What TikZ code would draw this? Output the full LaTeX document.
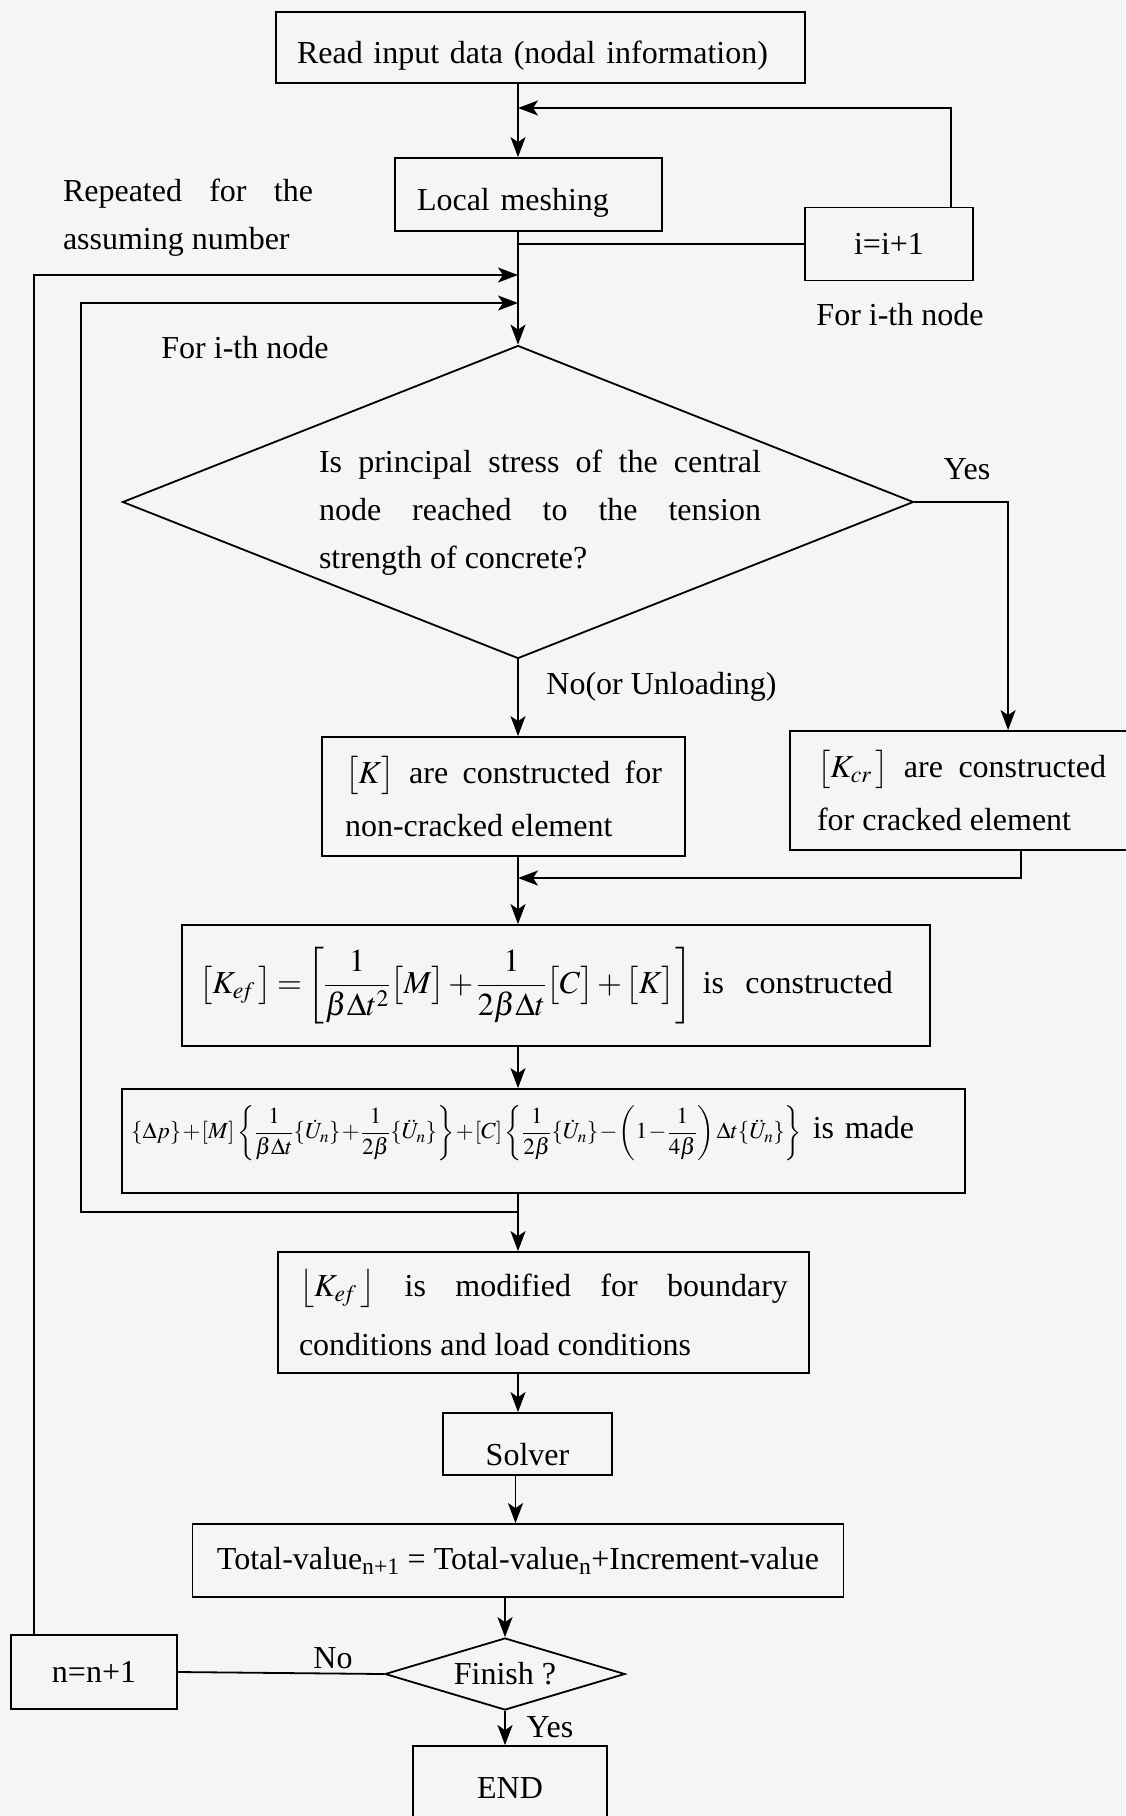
\documentclass[tikz,border=0pt]{standalone}
\usepackage{mathptmx}
\usepackage{fontspec}
\setmainfont{Liberation Serif}
\usetikzlibrary{arrows.meta,shapes.geometric,calc}
\newcommand{\spreadto}[2]{\makebox[#1][s]{#2}}
\newcommand{\shiftdown}[2]{\raisebox{-#1}[\height][\depth]{#2}}
\tikzset{box/.style={draw=black,line width=1.8pt,inner ysep=0pt,font=\fontsize{32}{53}\selectfont},
  decision/.style={draw=black,line width=1.8pt,shape=diamond,inner sep=0pt,font=\fontsize{32}{38}\selectfont},
  note/.style={inner sep=0pt,font=\fontsize{32}{38}\selectfont},
  arrow/.style={-{Stealth[length=20pt,width=15pt,inset=5pt]},line width=1.8pt},
  link/.style={line width=1.8pt}}

\begin{document}
\begin{tikzpicture}[x=1pt,y=-1pt]
  \path[fill=black!4,use as bounding box] (0,0) rectangle (1125,1816);
  \node[box,minimum height=71pt,inner xsep=21pt,text width=487pt,align=left] (read) at (540.5,47.5) {\shiftdown{8pt}{Read input data (nodal information)}};
  \node[box,minimum height=73pt,inner xsep=22pt,text width=223pt,align=left] (mesh) at (528.5,194.5) {\shiftdown{8pt}{Local meshing}};
  \node[box,minimum width=168pt,minimum height=73pt] (inc) at (889,244) {i=i+1};
  \node[note] (forright) at (900,315) {For i-th node};
  \node[note,font=\fontsize{32}{48.5}\selectfont,align=left] (repeat) at (188,217.5) {\spreadto{250pt}{Repeated for the}\\assuming number};
  \node[note] (forleft) at (245,348) {For i-th node};
  \node[decision,minimum width=791pt,minimum height=313pt] (crack) at (518,502) {};
  \node[note,font=\fontsize{32}{48}\selectfont,align=left] (cracktext) at (540,513) {\spreadto{442pt}{Is principal stress of the central}\\\spreadto{442pt}{node reached to the tension}\\strength of concrete?};
  \node[note] (yes1) at (967,469) {Yes};
  \node[note] (no1) at (661.5,687) {No(or Unloading)};
  \node[box,minimum height=119pt,inner xsep=23pt,align=left] (kbox) at (503.5,796.5) {\spreadto{317pt}{$\bigl[K\bigr]$ are constructed for}\\non-cracked element};
  \node[box,minimum height=119pt,inner xsep=27pt,align=left] (kcr) at (961.5,790.5) {\spreadto{289pt}{$\bigl[K_{cr}\,\bigr]$ are constructed}\\for cracked element};
  \node[box,minimum height=121pt,inner xsep=17pt,text width=714pt,align=left] (kef) at (556,985.5) {$\medmuskip=2mu\thickmuskip=3mu\displaystyle\bigl[K_{e\!f}\,\bigr]=\left[\frac{1}{\beta\Delta t^{2}}\bigl[M\bigr]+\frac{1}{2\beta\Delta t}\bigl[C\bigr]+\bigl[K\bigr]\right]$ is~~constructed};
  \node[box,minimum height=104pt,inner xsep=9pt,text width=825pt,align=left] (dp) at (543.5,1141) {\shiftdown{-8pt}{{\fontsize{23}{28}\selectfont$\medmuskip=1mu\thickmuskip=2mu\displaystyle\{\Delta p\}+[M]\left\{\frac{1}{\beta\Delta t}\{\dot U_{n}\}+\frac{1}{2\beta}\{\ddot U_{n}\}\right\}+[C]\left\{\frac{1}{2\beta}\{\dot U_{n}\}-\left(1-\frac{1}{4\beta}\right)\Delta t\{\ddot U_{n}\}\right\}$}~is made}};
  \node[box,minimum height=121pt,inner xsep=21pt,align=left,font=\fontsize{32}{59}\selectfont] (kmod) at (543.5,1312.5) {\spreadto{489pt}{$\bigl\lfloor K_{e\!f}\,\bigr\rfloor$ is modified for boundary}\\conditions and load conditions};
  \node[box,minimum width=169pt,minimum height=62pt] (solver) at (527.5,1444) {\shiftdown{11pt}{Solver}};
  \node[box,minimum width=651pt,minimum height=73pt] (total) at (518,1560.5) {Total-value\textsubscript{n+1} = Total-value\textsubscript{n}+Increment-value};
  \node[decision,minimum width=240pt,minimum height=72pt,aspect=3.3] (finish) at (505,1674) {Finish ?};
  \node[box,minimum width=166pt,minimum height=74pt] (nbox) at (94,1672) {n=n+1};
  \node[box,minimum width=194pt,minimum height=84pt] (end) at (510,1788) {END};
  \node[note] (no2) at (333,1658) {No};
  \node[note] (yes2) at (550,1727) {Yes};
  \coordinate (back1) at (518,108);
  \coordinate (back2) at (518,275);
  \coordinate (back3) at (518,303);
  \coordinate (back4) at (518,878);
  \coordinate (split) at (518,1212);
  \draw[arrow] (crack.north |- read.south) -- (crack.north |- mesh.north);
  \draw[arrow] ($(inc.north east)+(-23,0)$) |- (back1);
  \draw[link] (crack.north |- inc.west) -- (inc.west);
  \draw[arrow] (crack.north |- mesh.south) -- (crack.north);
  \draw[arrow] ($(nbox.north west)+(24,0)$) |- (back2);
  \draw[arrow] (split) -- ++(-437,0) |- (back3);
  \draw[arrow] (crack.south) -- (crack.south |- kbox.north);
  \draw[arrow] (crack.east) -| ($(kcr.north west)+(219,0)$);
  \draw[arrow] (crack.south |- kbox.south) -- (crack.south |- kef.north);
  \draw[arrow] ($(kcr.south west)+(232,0)$) |- (back4);
  \draw[arrow] (crack.south |- kef.south) -- (crack.south |- dp.north);
  \draw[arrow] (crack.south |- dp.south) -- (crack.south |- kmod.north);
  \draw[arrow] (crack.south |- kmod.south) -- (crack.south |- solver.north);
  \draw[arrow] ($(solver.south)+(-12,0)$) -- ($(solver.south |- total.north)+(-12,0)$);
  \draw[arrow] (finish.north |- total.south) -- (finish.north);
  \draw[link] (finish.west) -- (nbox.east);
  \draw[arrow] (finish.south) -- (finish.south |- end.north);
\end{tikzpicture}
\end{document}
